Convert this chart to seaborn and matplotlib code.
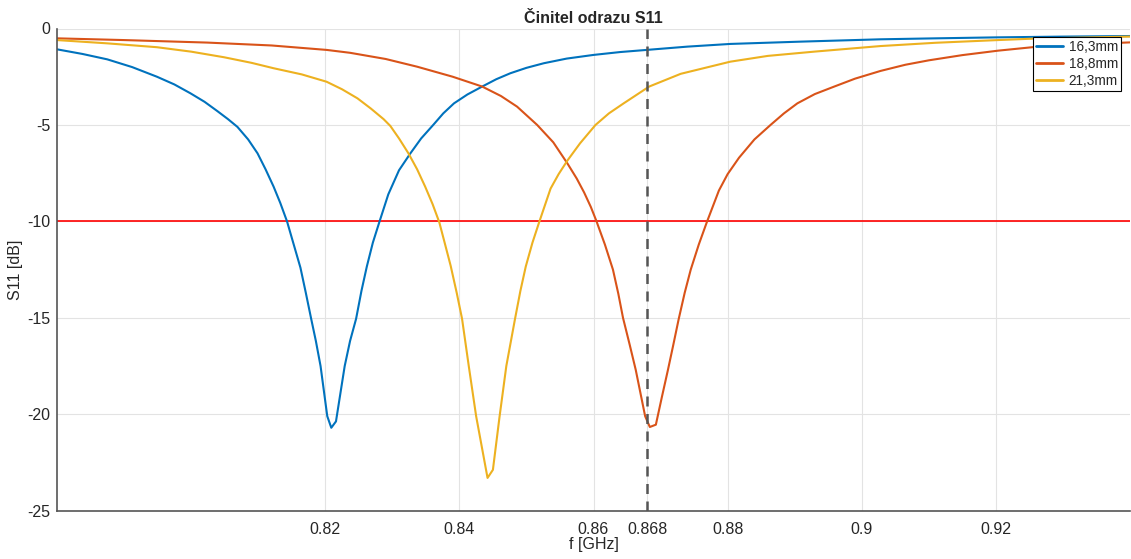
import numpy as np
import pandas as pd
import seaborn as sns
import matplotlib
matplotlib.use("Agg")
import matplotlib.pyplot as plt

# Measured S11 curves for three element lengths (frequency in GHz, S11 in dB)
f_163 = [0.7800, 0.7838, 0.7875, 0.7912, 0.7949, 0.7975, 0.7999, 0.8020, 0.8039,
         0.8055, 0.8069, 0.8085, 0.8099, 0.8111, 0.8123, 0.8133, 0.8143, 0.8153,
         0.8163, 0.8171, 0.8179, 0.8186, 0.8193, 0.8198, 0.8203, 0.8209, 0.8216,
         0.8229, 0.8237, 0.8246, 0.8254, 0.8262, 0.8271, 0.8281, 0.8294, 0.8310,
         0.8327, 0.8343, 0.8361, 0.8376, 0.8392, 0.8412, 0.8434, 0.8455, 0.8476,
         0.8500, 0.8526, 0.8560, 0.8600, 0.8640, 0.8683, 0.8740, 0.8804, 0.8910,
         0.9028, 0.9110, 0.9200, 0.9300, 0.9400]
s_163 = [-1.08, -1.32, -1.60, -2.00, -2.50, -2.90, -3.36, -3.80, -4.28,
         -4.70, -5.10, -5.75, -6.47, -7.30, -8.20, -9.05, -10.00, -11.20,
         -12.40, -13.70, -15.05, -16.20, -17.50, -18.80, -20.10, -20.70, -20.37,
         -17.50, -16.20, -15.05, -13.60, -12.34, -11.10, -10.00, -8.60, -7.35,
         -6.47, -5.70, -5.00, -4.40, -3.88, -3.42, -3.01, -2.63, -2.32,
         -2.04, -1.80, -1.56, -1.37, -1.22, -1.10, -0.94, -0.80, -0.68,
         -0.56, -0.51, -0.46, -0.42, -0.39]

f_188 = [0.7800, 0.7900, 0.8024, 0.8120, 0.8202, 0.8237, 0.8290, 0.8337, 0.8390,
         0.8434, 0.8462, 0.8486, 0.8516, 0.8540, 0.8561, 0.8575, 0.8586, 0.8596,
         0.8604, 0.8617, 0.8629, 0.8637, 0.8644, 0.8654, 0.8663, 0.8670, 0.8677,
         0.8684, 0.8693, 0.8702, 0.8711, 0.8719, 0.8727, 0.8736, 0.8745, 0.8757,
         0.8769, 0.8787, 0.8800, 0.8817, 0.8840, 0.8864, 0.8884, 0.8904, 0.8930,
         0.8959, 0.8990, 0.9028, 0.9065, 0.9100, 0.9150, 0.9203, 0.9260, 0.9330,
         0.9400]
s_188 = [-0.51, -0.60, -0.73, -0.88, -1.11, -1.26, -1.58, -1.98, -2.50,
         -3.01, -3.50, -4.05, -5.00, -5.90, -6.99, -7.78, -8.50, -9.25,
         -9.95, -11.20, -12.50, -13.75, -15.00, -16.40, -17.70, -18.90, -20.10,
         -20.66, -20.54, -19.10, -17.70, -16.40, -15.07, -13.70, -12.50, -11.20,
         -10.04, -8.40, -7.55, -6.70, -5.75, -5.00, -4.40, -3.88, -3.40,
         -3.01, -2.60, -2.20, -1.88, -1.65, -1.38, -1.15, -0.95, -0.82,
         -0.72]

f_213 = [0.7800, 0.7875, 0.7949, 0.8000, 0.8049, 0.8090, 0.8123, 0.8165, 0.8202,
         0.8225, 0.8248, 0.8268, 0.8287, 0.8297, 0.8310, 0.8324, 0.8337, 0.8349,
         0.8360, 0.8370, 0.8378, 0.8387, 0.8396, 0.8404, 0.8414, 0.8425, 0.8442,
         0.8450, 0.8460, 0.8470, 0.8483, 0.8491, 0.8499, 0.8509, 0.8519, 0.8536,
         0.8548, 0.8561, 0.8580, 0.8603, 0.8623, 0.8645, 0.8683, 0.8730, 0.8804,
         0.8860, 0.8929, 0.9028, 0.9110, 0.9203, 0.9260, 0.9330, 0.9400]
s_213 = [-0.60, -0.77, -0.97, -1.20, -1.49, -1.78, -2.06, -2.38, -2.76,
         -3.15, -3.62, -4.15, -4.70, -5.05, -5.70, -6.47, -7.30, -8.20,
         -9.10, -10.04, -11.10, -12.30, -13.70, -15.05, -17.50, -20.10, -23.30,
         -22.88, -20.10, -17.50, -15.05, -13.60, -12.34, -11.10, -10.04, -8.30,
         -7.55, -6.85, -5.95, -5.00, -4.40, -3.88, -3.01, -2.35, -1.72,
         -1.42, -1.20, -0.91, -0.74, -0.60, -0.52, -0.47, -0.42]

labels = ["16,3mm", "18,8mm", "21,3mm"]
colors = ["#0072BD", "#D95319", "#EDB120"]

x_ticks = [0.82, 0.84, 0.86, 0.868, 0.88, 0.9, 0.92]
x_tick_labels = ["0.82", "0.84", "0.86", "0.868", "0.88", "0.9", "0.92"]
y_ticks = [-25, -20, -15, -10, -5, 0]
threshold_db = -10
marker_f = 0.868

df = pd.concat([
    pd.DataFrame({"f": f_163, "S11": s_163, "L": labels[0]}),
    pd.DataFrame({"f": f_188, "S11": s_188, "L": labels[1]}),
    pd.DataFrame({"f": f_213, "S11": s_213, "L": labels[2]}),
], ignore_index=True)

sns.set_style("whitegrid")
plt.rcParams["font.family"] = ["Liberation Sans", "DejaVu Sans"]

fig = plt.figure(figsize=(11.31, 5.59), dpi=100)
ax = fig.add_axes([57 / 1131, 1 - 510.7 / 559, (1130 - 57) / 1131, (510.7 - 28.5) / 559])

sns.lineplot(data=df, x="f", y="S11", hue="L", palette=colors, sort=False,
             estimator=None, linewidth=1.5, ax=ax, legend=True)

ax.axhline(threshold_db, color="#FF0000", linewidth=1.2, zorder=1.5)
ax.axvline(marker_f, color="#555555", linewidth=1.8, linestyle=(0, (4, 3)), zorder=3)

ax.set_xlim(0.78, 0.94)
ax.set_ylim(-25, 0)
ax.set_xticks(x_ticks)
ax.set_xticklabels(x_tick_labels)
ax.set_yticks(y_ticks)
ax.set_yticklabels([str(v) for v in y_ticks])

ax.grid(True, color="#e3e3e3", linewidth=0.8)
ax.set_axisbelow(True)
for side in ["top", "right"]:
    ax.spines[side].set_visible(False)
for side in ["left", "bottom"]:
    ax.spines[side].set_color("#555555")
    ax.spines[side].set_linewidth(1.2)

ax.tick_params(axis="both", direction="in", length=8, width=1.0, color="#262626",
               labelsize=11.5, labelcolor="#262626")
ax.tick_params(axis="y", pad=5)
ax.tick_params(axis="x", pad=8)

ax.set_xlabel("f [GHz]", fontsize=11.5, color="#262626", labelpad=0)
ax.set_ylabel("S11 [dB]", fontsize=11.5, color="#262626", labelpad=3)
ax.set_title("Činitel odrazu S11", fontsize=11.5, fontweight="bold", pad=4)

leg = ax.legend(loc="upper right", bbox_to_anchor=(0.992, 0.983), borderaxespad=0,
                fontsize=9.8, frameon=True, fancybox=False, framealpha=1,
                edgecolor="black", handlelength=2.0, handletextpad=0.4,
                labelspacing=0.22, borderpad=0.25, title=None)
leg.get_frame().set_linewidth(0.8)
for line in leg.get_lines():
    line.set_linewidth(2)

fig.savefig("out.png", dpi=100, facecolor="white")
